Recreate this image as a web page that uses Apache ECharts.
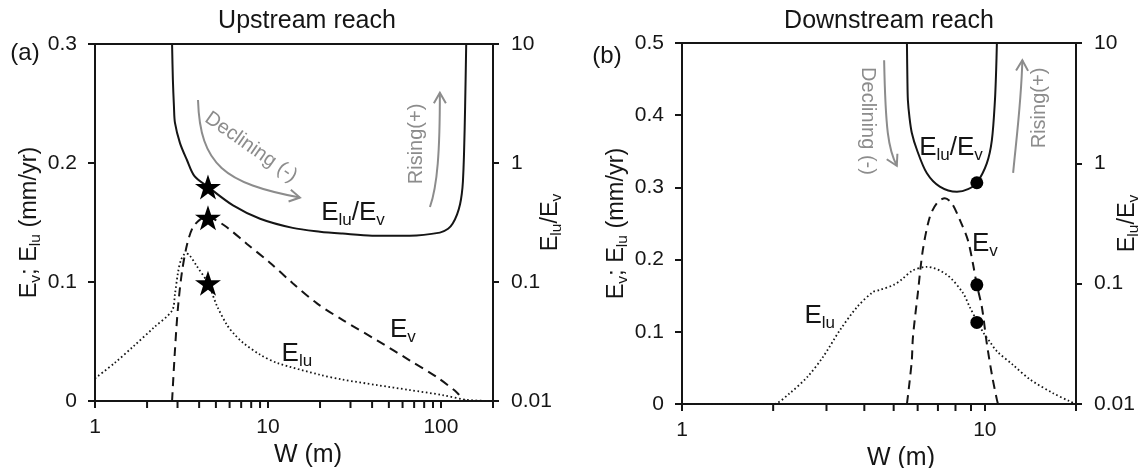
<!DOCTYPE html>
<html>
<head>
<meta charset="utf-8">
<script src="https://cdn.jsdelivr.net/npm/echarts@6/dist/echarts.min.js"></script>
<style>
  html, body { margin: 0; padding: 0; background: #fff; }
  #chart { width: 1142px; height: 468px; }
</style>
</head>
<body>
<div id="chart"></div>
<script>
// ---------- Upstream reach: channel width W (m) and rates ----------
const upEvW   = [2.79, 2.9, 3.02, 3.18, 3.4, 3.68, 4.1, 4.5, 5.0, 5.79, 7.56, 10.3, 13.9, 19.2, 27.1, 42.7, 66.2, 94.8, 124, 134, 140];
const upEv    = [0, 0.043, 0.079, 0.108, 0.131, 0.146, 0.153, 0.155, 0.152, 0.146, 0.132, 0.116, 0.099, 0.082, 0.068, 0.051, 0.034, 0.020, 0.007, 0.001, 0];

const upEluW  = [1, 1.3, 1.67, 2.2, 2.79, 2.9, 3.02, 3.15, 3.35, 3.5, 3.89, 4.5, 5.07, 5.79, 6.4, 7.17, 8.99, 11.3, 20, 27, 42.7, 66, 102, 141, 200];
const upElu   = [0.019, 0.032, 0.046, 0.062, 0.076, 0.090, 0.108, 0.119, 0.124, 0.123, 0.113, 0.099, 0.080, 0.064, 0.056, 0.049, 0.039, 0.032, 0.022, 0.018, 0.0134, 0.0092, 0.005, 0.001, 0];

const upRatioW = [2.79, 2.82, 2.86, 2.9, 3.1, 3.4, 3.75, 4.5, 6.28, 9.0, 13.9, 20, 27, 40, 66, 98.6, 110, 117, 124, 129, 132, 134, 136, 138, 140];
const upRatio  = [10, 5.0, 3.0, 2.17, 1.47, 1.06, 0.78, 0.63, 0.44, 0.34, 0.285, 0.265, 0.255, 0.245, 0.245, 0.26, 0.28, 0.31, 0.37, 0.45, 0.55, 0.7, 1.2, 3.0, 10];

// highlighted width and its three values (E_v, E_lu, E_lu/E_v)
const upMarkW = 4.5;
const upMarkEv = 0.154, upMarkElu = 0.099, upMarkRatio = 0.63;

// ---------- Downstream reach ----------
const dnEvW = [5.53, 5.64, 5.74, 5.79, 6.01, 6.24, 6.58, 6.94, 7.38, 7.78, 8.27, 8.79, 9.13, 9.41, 9.78, 10.15, 10.59, 10.96, 11.05];
const dnEv  = [0, 0.030, 0.061, 0.093, 0.154, 0.213, 0.259, 0.278, 0.285, 0.278, 0.255, 0.227, 0.195, 0.165, 0.134, 0.084, 0.037, 0.006, 0];

const dnEluW = [1, 2.0, 2.27, 2.6, 2.92, 3.32, 3.78, 4.27, 4.5, 5.0, 5.3, 5.78, 6.44, 7.49, 8.46, 8.9, 9.41, 9.85, 10.4, 10.96, 12.4, 14.1, 16.8, 19.0, 20];
const dnElu  = [0, 0, 0.015, 0.038, 0.065, 0.102, 0.134, 0.155, 0.158, 0.165, 0.172, 0.185, 0.190, 0.179, 0.154, 0.135, 0.115, 0.100, 0.086, 0.073, 0.054, 0.034, 0.015, 0.004, 0];

const dnRatioW = [5.53, 5.55, 5.57, 5.64, 5.74, 5.97, 6.43, 7.10, 8.09, 8.8, 9.41, 10.15, 10.55, 10.8, 10.9, 10.96];
const dnRatio  = [10, 5.0, 3.36, 2.4, 1.79, 1.29, 0.83, 0.64, 0.58, 0.61, 0.69, 1.0, 1.56, 3.36, 6.0, 10];

const dnMarkW = 9.41;
const dnMarkEv = 0.165, dnMarkElu = 0.113, dnMarkRatio = 0.69;

// ---------- axis ticks ----------
const upMajorW = [1, 10, 100];
const upMinorW = [2, 3, 4, 5, 6, 7, 8, 9, 20, 30, 40, 50, 60, 70, 80, 90];
const dnMajorW = [1, 10];
const dnMinorW = [2, 3, 4, 5, 6, 7, 8, 9];
const ratioTicks = [0.01, 0.1, 1, 10];

// ---------- annotation anchors (W, left-axis value) ----------
// curved trend arrows: start, control 1, control 2, tip
const upArrows = [
  [[3.94, 0.253], [4.05, 0.198], [5.64, 0.183], [15.3, 0.171]],
  [[86.4, 0.163], [95.5, 0.181], [98.6, 0.210], [98.6, 0.259]]
];
const dnArrows = [
  [[4.65, 0.476], [4.70, 0.380], [4.80, 0.353], [5.12, 0.330]],
  [[12.4, 0.320], [12.7, 0.366], [13.2, 0.420], [13.3, 0.476]]
];

const FONT = 'Liberation Sans, Arial, Helvetica, sans-serif';
const INK = '#151515';
const GREY = '#8c8c8c';

const zip = (xs, ys) => xs.map((x, i) => [x, ys[i]]);
const isPow10 = (v, list) => list.some(t => Math.abs(v - t) < t * 1e-6);

const STAR = 'path://M12,0 L14.9,8.6 L24,8.6 L16.6,13.9 L19.4,22.6 L12,17.3 L4.6,22.6 L7.4,13.9 L0,8.6 L9.1,8.6 Z';

const richE = {
  m: { fontSize: 26, fontFamily: FONT, color: INK, lineHeight: 32 },
  s: { fontSize: 17, fontFamily: FONT, color: INK, lineHeight: 19, verticalAlign: 'bottom' }
};
const richAxis = {
  m: { fontSize: 23.5, fontFamily: FONT, color: INK, lineHeight: 28 },
  s: { fontSize: 15.5, fontFamily: FONT, color: INK, lineHeight: 17, verticalAlign: 'bottom' }
};

function xAxisCfg(grid, max, major, namePad) {
  return {
    type: 'log', logBase: 10, gridIndex: grid, min: 1, max: max,
    axisLine: { show: true, lineStyle: { color: INK, width: 2 } },
    axisTick: { show: true, inside: false, length: 7, lineStyle: { color: INK, width: 2 } },
    axisLabel: {
      fontSize: 21, fontFamily: FONT, color: INK, margin: 16,
      formatter: v => isPow10(v, major) ? String(Math.round(v)) : ''
    },
    splitLine: { show: false },
    name: 'W (m)', nameLocation: 'middle', nameGap: 35,
    nameTextStyle: { fontSize: 25, fontFamily: FONT, color: INK, padding: [0, 0, 0, namePad] }
  };
}
function yLeftCfg(grid, max, gap) {
  return {
    type: 'value', gridIndex: grid, position: 'left', min: 0, max: max, interval: 0.1,
    axisLine: { show: true, lineStyle: { color: INK, width: 2 } },
    axisTick: { show: true, inside: false, length: 7, lineStyle: { color: INK, width: 2 } },
    axisLabel: {
      fontSize: 21, fontFamily: FONT, color: INK, margin: 18,
      formatter: v => String(+v.toFixed(1))
    },
    splitLine: { show: false },
    name: '{m|E}{s|v}{m|; E}{s|lu}{m| (mm/yr)}',
    nameLocation: 'middle', nameRotate: 90, nameGap: gap,
    nameTextStyle: { rich: richAxis }
  };
}
function yRightCfg(grid, gap) {
  return {
    type: 'log', logBase: 10, gridIndex: grid, position: 'right', min: 0.01, max: 10,
    axisLine: { show: true, lineStyle: { color: INK, width: 2 } },
    axisTick: { show: true, inside: false, length: 6, lineStyle: { color: INK, width: 2 } },
    axisLabel: {
      fontSize: 21, fontFamily: FONT, color: INK, margin: 18,
      formatter: v => isPow10(v, ratioTicks) ? String(+v.toPrecision(2)) : ''
    },
    splitLine: { show: false },
    name: '{m|E}{s|lu}{m|/E}{s|v}',
    nameLocation: 'middle', nameRotate: 90, nameGap: gap, nameMoveOverlap: false,
    nameTextStyle: { rich: richAxis }
  };
}

function curve(xi, yi, data, kind) {
  const ls = { color: INK, width: 2 };
  if (kind === 'dash') ls.type = [9, 6];
  if (kind === 'dot') { ls.type = [1.6, 2.6]; ls.width = 1.8; }
  return {
    type: 'line', xAxisIndex: xi, yAxisIndex: yi, data: data,
    showSymbol: false, symbol: 'none', smooth: 0.3, lineStyle: ls,
    silent: true, z: 3
  };
}

function minorTicks(xi, yi, list) {
  return {
    type: 'custom', xAxisIndex: xi, yAxisIndex: yi, clip: false, silent: true, z: 5,
    data: list.map(w => [w, 0]),
    renderItem: (p, api) => {
      const pt = api.coord([api.value(0), 0]);
      return { type: 'line', shape: { x1: pt[0], y1: pt[1], x2: pt[0], y2: pt[1] + 7 },
               style: { stroke: INK, lineWidth: 2 } };
    }
  };
}

function arrows(xi, yi, list) {
  return {
    type: 'custom', xAxisIndex: xi, yAxisIndex: yi, clip: false, silent: true, z: 4,
    data: list.map((a, i) => [a[0][0], a[0][1], i]),
    renderItem: (p, api) => {
      const pts = list[api.value(2)].map(q => api.coord(q));
      const [p0, c1, c2, p3] = pts;
      const dx = p3[0] - c2[0], dy = p3[1] - c2[1];
      const L = Math.hypot(dx, dy) || 1;
      const ux = -dx / L, uy = -dy / L;
      const len = 12, ang = Math.PI / 6;
      const arm = s => [p3[0] + len * (ux * Math.cos(s * ang) - uy * Math.sin(s * ang)),
                        p3[1] + len * (ux * Math.sin(s * ang) + uy * Math.cos(s * ang))];
      return {
        type: 'group',
        children: [
          { type: 'bezierCurve',
            shape: { x1: p0[0], y1: p0[1], cpx1: c1[0], cpy1: c1[1], cpx2: c2[0], cpy2: c2[1], x2: p3[0], y2: p3[1] },
            style: { stroke: GREY, lineWidth: 2, fill: null } },
          { type: 'polyline', shape: { points: [arm(1), p3, arm(-1)] },
            style: { stroke: GREY, lineWidth: 2, fill: null } }
        ]
      };
    }
  };
}

function marks(xi, yi, data, symbol, size) {
  return {
    type: 'scatter', xAxisIndex: xi, yAxisIndex: yi, data: data,
    symbol: symbol, symbolSize: size, itemStyle: { color: '#000', opacity: 1 },
    silent: true, z: 6
  };
}

function texts(xi, yi, items) {
  return {
    type: 'scatter', xAxisIndex: xi, yAxisIndex: yi, symbolSize: 0, silent: true, z: 7,
    itemStyle: { opacity: 1 },
    data: items.map(t => ({
      value: t.at,
      label: {
        show: true, position: 'inside', formatter: t.text, rotate: t.rotate || 0,
        color: t.grey ? GREY : INK, fontSize: t.grey ? 20 : 26, fontFamily: FONT,
        opacity: 1,
        rich: t.grey ? undefined : richE
      }
    }))
  };
}

const chart = echarts.init(document.getElementById('chart'), null, { renderer: 'canvas' });

chart.setOption({
  animation: false,
  backgroundColor: '#fff',
  textStyle: { fontFamily: FONT },
  grid: [
    { left: 95, top: 44, width: 398, height: 357, show: true, borderColor: INK, borderWidth: 2, outerBoundsMode: 'none' },
    { left: 682, top: 43, width: 394, height: 361, show: true, borderColor: INK, borderWidth: 2, outerBoundsMode: 'none' }
  ],
  graphic: [
    { type: 'text', x: 307, y: 21, style: { text: 'Upstream reach', font: '25px ' + FONT, fill: INK, textAlign: 'center', textVerticalAlign: 'middle' } },
    { type: 'text', x: 889, y: 21, style: { text: 'Downstream reach', font: '25px ' + FONT, fill: INK, textAlign: 'center', textVerticalAlign: 'middle' } },
    { type: 'text', x: 25, y: 53, style: { text: '(a)', font: '24px ' + FONT, fill: INK, textAlign: 'center', textVerticalAlign: 'middle' } },
    { type: 'text', x: 607, y: 56, style: { text: '(b)', font: '24px ' + FONT, fill: INK, textAlign: 'center', textVerticalAlign: 'middle' } }
  ],
  xAxis: [
    xAxisCfg(0, 200, upMajorW, 28),
    xAxisCfg(1, 20, dnMajorW, 44)
  ],
  yAxis: [
    yLeftCfg(0, 0.3, 50),
    yRightCfg(0, 44),
    yLeftCfg(1, 0.5, 50),
    yRightCfg(1, 38)
  ],
  series: [
    // upstream curves
    curve(0, 0, zip(upEvW, upEv), 'dash'),
    curve(0, 0, zip(upEluW, upElu), 'dot'),
    curve(0, 1, zip(upRatioW, upRatio), 'solid'),
    marks(0, 0, [[upMarkW, upMarkEv], [upMarkW, upMarkElu]], STAR, [26, 25]),
    marks(0, 1, [[upMarkW, upMarkRatio]], STAR, [26, 25]),
    minorTicks(0, 0, upMinorW),
    arrows(0, 0, upArrows),
    texts(0, 0, [
      { at: [31.0, 0.158], text: '{m|E}{s|lu}{m|/E}{s|v}' },
      { at: [60.3, 0.060], text: '{m|E}{s|v}' },
      { at: [14.7, 0.040], text: '{m|E}{s|lu}' },
      { at: [7.98, 0.2134], text: 'Declining (-)', rotate: -35, grey: true },
      { at: [72.7, 0.216], text: 'Rising(+)', rotate: 90, grey: true }
    ]),
    // downstream curves
    curve(1, 2, zip(dnEvW, dnEv), 'dash'),
    curve(1, 2, zip(dnEluW, dnElu), 'dot'),
    curve(1, 3, zip(dnRatioW, dnRatio), 'solid'),
    marks(1, 2, [[dnMarkW, dnMarkEv], [dnMarkW, dnMarkElu]], 'circle', 13),
    marks(1, 3, [[dnMarkW, dnMarkRatio]], 'circle', 13),
    minorTicks(1, 2, dnMinorW),
    arrows(1, 2, dnArrows),
    texts(1, 2, [
      { at: [7.73, 0.355], text: '{m|E}{s|lu}{m|/E}{s|v}' },
      { at: [10.0, 0.222], text: '{m|E}{s|v}' },
      { at: [2.85, 0.122], text: '{m|E}{s|lu}' },
      { at: [4.11, 0.392], text: 'Declining (-)', rotate: -90, grey: true },
      { at: [15.2, 0.410], text: 'Rising(+)', rotate: 90, grey: true }
    ])
  ]
});
</script>
</body>
</html>
